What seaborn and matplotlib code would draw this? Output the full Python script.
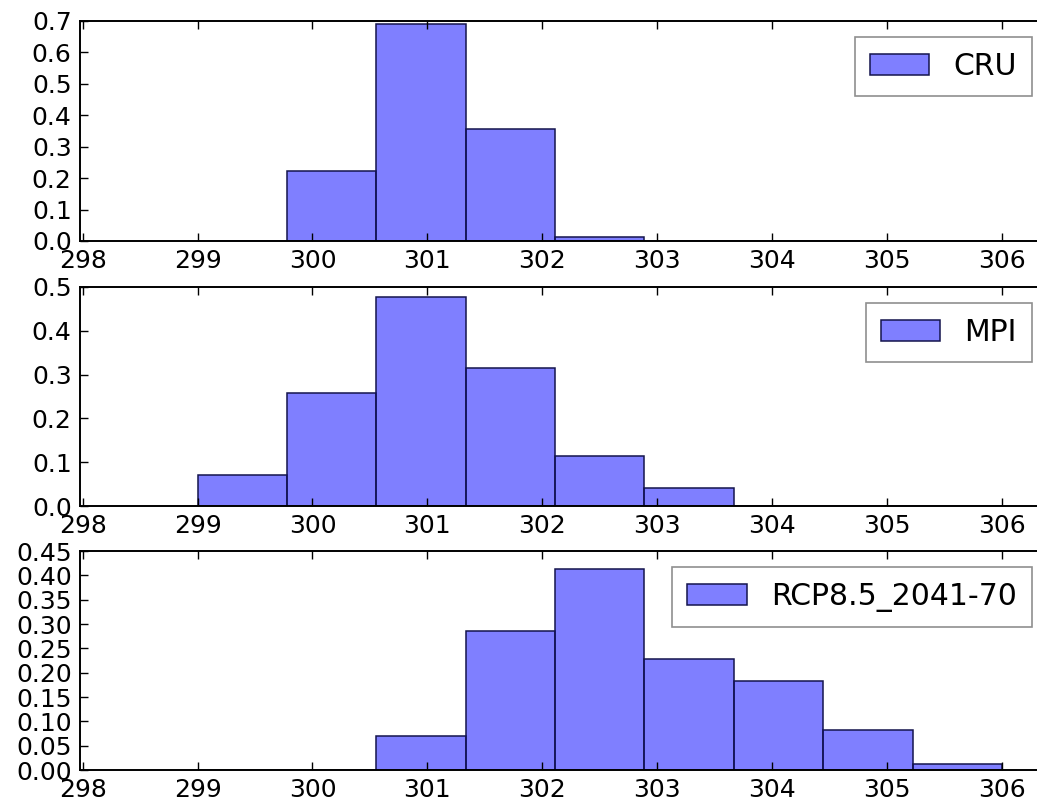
import numpy as np
import pandas as pd
import matplotlib
matplotlib.use("Agg")
import matplotlib.pyplot as plt
import seaborn as sns
from matplotlib.ticker import FormatStrFormatter

# bin edges shared by the three histograms
bin_edges = list(np.linspace(299.0, 306.0, 10))

# density values, one per bin
cru = [0.0, 0.224, 0.690, 0.356, 0.012, 0.0, 0.0, 0.0, 0.0]
mpi = [0.070, 0.258, 0.477, 0.316, 0.115, 0.041, 0.0, 0.0, 0.0]
rcp = [0.0, 0.0, 0.070, 0.286, 0.414, 0.228, 0.183, 0.083, 0.012]

labels = ["CRU", "MPI", "RCP8.5_2041-70"]
ylims = [0.7, 0.5, 0.45]
ysteps = [0.1, 0.1, 0.05]
yfmts = ["%.1f", "%.1f", "%.2f"]

centers = [(a + b) / 2 for a, b in zip(bin_edges[:-1], bin_edges[1:])]

fig = plt.figure(figsize=(10.37, 8.05), dpi=100)
W, H = 1037.0, 805.0
# axes boxes in pixels: left, top, right, bottom
boxes = [(80, 21, 1048, 241), (80, 287, 1048, 506), (80, 551, 1048, 770)]

for series, name, ytop, step, fmt, (l, t, r, b) in zip(
        [cru, mpi, rcp], labels, ylims, ysteps, yfmts, boxes):
    ax = fig.add_axes([l / W, 1 - b / H, (r - l) / W, (b - t) / H])
    df = pd.DataFrame({"temp": centers, "dens": series})
    sns.histplot(data=df, x="temp", weights="dens", bins=bin_edges, stat="count",
                 color=(0, 0, 1), alpha=0.5, edgecolor=(0.08, 0.08, 0.3),
                 linewidth=1.1, label=name, ax=ax)
    ax.set_xlim(297.977, 306.4)
    ax.set_ylim(0, ytop)
    ax.set_xticks(np.arange(298, 307, 1))
    ax.set_yticks(np.arange(0, ytop + 1e-9, step))
    ax.yaxis.set_major_formatter(FormatStrFormatter(fmt))
    ax.set_xlabel("")
    ax.set_ylabel("")
    ax.tick_params(direction="in", top=True, right=True, length=6, width=1,
                   labelsize=18, pad=6, color="k")
    for sp in ax.spines.values():
        sp.set_linewidth(1.4)
        sp.set_color("k")
    ax.grid(False)
    leg = ax.legend(loc="upper right", fontsize=21.5, fancybox=False,
                    frameon=True, borderaxespad=0.55, handlelength=2,
                    borderpad=0.5)
    leg.get_frame().set_edgecolor("0.45")
    leg.get_frame().set_linewidth(1.2)

fig.savefig("out.png", dpi=100)
